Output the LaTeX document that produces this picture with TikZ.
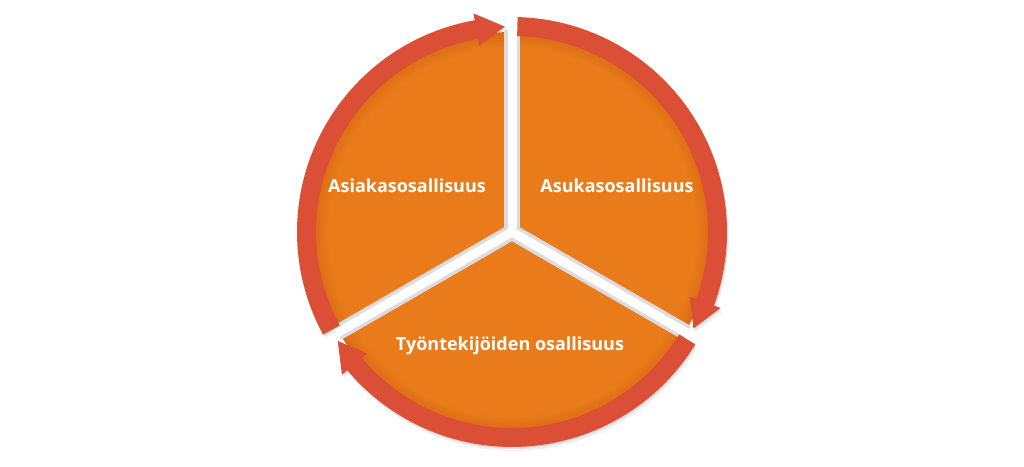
\documentclass[tikz,border=0pt]{standalone}
\usepackage{fontspec}
\setmainfont{Open Sans}
\usetikzlibrary{calc}
\definecolor{orangec}{HTML}{E97B1B}
\definecolor{orangedark}{HTML}{D96A12}
\definecolor{redc}{HTML}{DA4F36}
\definecolor{spokegray}{HTML}{DCDCE0}
\pgfdeclareradialshading{discshade}{\pgfpointorigin}{color(0bp)=(orangec); color(23bp)=(orangec); color(25bp)=(orangedark); color(50bp)=(orangedark)}
\newcommand\ringarrow[3][redc]{%
  \fill[#1] (#2:215) arc[start angle=#2, end angle={#3+8}, radius=215]
    -- ({#3+8}:222) -- (#3:205.5) -- ({#3+8}:189) -- ({#3+8}:196)
    arc[start angle={#3+8}, end angle=#2, radius=196] -- cycle;}
\tikzset{
  label/.style={text=white, font=\fontsize{18}{20}\selectfont\bfseries, inner sep=0pt},
  spoke/.style={line width=16pt, draw=spokegray, line cap=butt},
  spokecore/.style={line width=9pt, draw=white, line cap=butt}
}
\begin{document}
\begin{tikzpicture}[x=1pt, y=-1pt]
\useasboundingbox[fill=white] (0,0) rectangle (1024,466);
\coordinate (c) at (512,232);
\begin{scope}[shift={(c)}, yscale=-1]
  % soft shadow
  \begin{scope}[shift={(2,-4)}]
    \ringarrow[black, opacity=0.05]{208.5}{92}
    \ringarrow[black, opacity=0.05]{88.5}{-28}
    \ringarrow[black, opacity=0.05]{-31.5}{-148}
  \end{scope}
  \begin{scope}[shift={(1,-2)}]
    \ringarrow[black, opacity=0.07]{208.5}{92}
    \ringarrow[black, opacity=0.07]{88.5}{-28}
    \ringarrow[black, opacity=0.07]{-31.5}{-148}
  \end{scope}
  % disc
  \shade[shading=discshade] (0,0) circle[radius=200];
  % spokes
  \coordinate (o) at (0,0);
  \coordinate (s1) at (90:202);
  \coordinate (s2) at (210:202);
  \coordinate (s3) at (-30:202);
  \draw[spoke] (o) -- (s1);
  \draw[spoke] (o) -- (s2);
  \draw[spoke] (o) -- (s3);
  \fill[spokegray] (o) circle[radius=8];
  \draw[spokecore] (o) -- (s1);
  \draw[spokecore] (o) -- (s2);
  \draw[spokecore] (o) -- (s3);
  \fill[white] (o) circle[radius=4.5];
  % ring arrows
  \ringarrow{208.5}{92}
  \ringarrow{88.5}{-28}
  \ringarrow{-31.5}{-148}
\end{scope}
\node[label] (a) at (407,186) {Asiakasosallisuus};
\node[label] (b) at (617,186) {Asukasosallisuus};
\node[label] (t) at (510,346) {Työntekijöiden osallisuus};
\end{tikzpicture}
\end{document}
